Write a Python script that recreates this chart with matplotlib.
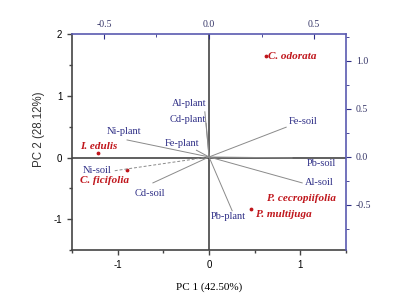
import matplotlib
matplotlib.use("Agg")
import matplotlib.pyplot as plt
from matplotlib.ticker import MultipleLocator

plt.rcParams["axes.unicode_minus"] = False

# ---- data ----
# loadings (top / right axes units)
var_names = ["Fe-soil", "Pb-soil", "Al-soil", "Pb-plant", "Cd-soil",
             "Ni-soil", "Ni-plant", "Fe-plant", "Al-plant", "Cd-plant"]
load_x = [0.367, 0.395, 0.443, 0.11, -0.267, -0.457, -0.39, -0.06, -0.02, -0.014]
load_y = [0.31, -0.01, -0.27, -0.56, -0.27, -0.146, 0.177, 0.07, 0.47, 0.35]

# scores (bottom / left axes units)
sp_names = ["C. odorata", "I. edulis", "C. ficifolia", "P. multijuga", "P. cecropiifolia"]
sp_x = [0.62, -1.22, -0.90, 0.46, 0.70]
sp_y = [1.64, 0.07, -0.21, -0.83, -0.64]

bottom_ticks = [-1, 0, 1]
left_ticks = [-1, 0, 1, 2]
top_ticks = [-0.5, 0.0, 0.5]
right_ticks = [-0.5, 0.0, 0.5, 1.0]

# ---- style ----
navy = "#2e2e86"
red = "#c0161c"
dark = "#444444"
serif = ["Liberation Serif", "DejaVu Serif"]
sans = ["Liberation Sans", "DejaVu Sans"]

fig = plt.figure(figsize=(4.02, 3.01), dpi=100)
pos = [0.179, 0.169, 0.682, 0.718]
ax = fig.add_axes(pos)
ax2 = fig.add_axes(pos)
ax2.patch.set_visible(False)

ax.set_xlim(-1.5, 1.5)
ax.set_ylim(-1.5, 2.0)
ax2.set_xlim(-1.5 / 2.3, 1.5 / 2.3)
ax2.set_ylim(-0.97, 1.28)

# main axes spines/ticks
for s in ["top", "right"]:
    ax.spines[s].set_visible(False)
for s in ["left", "bottom"]:
    ax.spines[s].set_color(dark)
    ax.spines[s].set_linewidth(1.2)
ax.set_xticks(bottom_ticks)
ax.set_yticks(left_ticks)
ax.xaxis.set_minor_locator(MultipleLocator(0.5))
ax.yaxis.set_minor_locator(MultipleLocator(0.5))
ax.tick_params(which="both", direction="out", color=dark, width=1.0, labelsize=7)
ax.tick_params(which="major", length=3.5)
ax.tick_params(which="minor", length=2)
for lab in ax.get_xticklabels() + ax.get_yticklabels():
    lab.set_family(sans)

# secondary axes (top/right)
for s in ["left", "bottom"]:
    ax2.spines[s].set_visible(False)
ax2.xaxis.tick_top()
ax2.yaxis.tick_right()
for s in ["top", "right"]:
    ax2.spines[s].set_visible(True)
    ax2.spines[s].set_color("#5a5ab0")
    ax2.spines[s].set_linewidth(1.2)
ax2.set_xticks(top_ticks)
ax2.set_yticks(right_ticks)
ax2.set_xticklabels(["%.1f" % t for t in top_ticks])
ax2.set_yticklabels(["%.1f" % t for t in right_ticks])
ax2.xaxis.set_minor_locator(MultipleLocator(0.25))
ax2.yaxis.set_minor_locator(MultipleLocator(0.25))
ax2.tick_params(axis="x", which="both", direction="in", color=navy, labelcolor="#333366", labelsize=7)
ax2.tick_params(axis="y", which="both", direction="out", color=navy, labelcolor="#333366", labelsize=7)
ax2.tick_params(which="major", length=3.5)
ax2.tick_params(which="minor", length=2)
for lab in ax2.get_xticklabels() + ax2.get_yticklabels():
    lab.set_family(serif)

# zero lines
ax.axhline(0, color=dark, lw=1.2, zorder=1)
ax.axvline(0, color=dark, lw=1.2, zorder=1)

# loading vectors
offsets = {
    "Fe-soil": (3, 6, "left"),
    "Pb-soil": (15, -6, "left"),
    "Al-soil": (3, 0, "left"),
    "Pb-plant": (-4, -6, "center"),
    "Cd-soil": (-3, -11, "center"),
    "Ni-soil": (-1, 0, "right"),
    "Ni-plant": (-3, 8, "center"),
    "Fe-plant": (-14, 7, "center"),
    "Al-plant": (-16, 8, "center"),
    "Cd-plant": (-18, 4, "center"),
}
for name, lx, ly in zip(var_names, load_x, load_y):
    ls = (0, (3, 2)) if name == "Ni-soil" else "-"
    ax2.plot([0, lx], [0, ly], color="#8a8a8a", lw=0.7, ls=ls, zorder=2)
    dx, dy, ha = offsets[name]
    ax2.annotate(name, (lx, ly), xytext=(dx, dy), textcoords="offset pixels",
                 ha=ha, va="center", color=navy, fontsize=7.5, family=serif, zorder=4)

# species scores
sp_off = {
    "C. odorata": (2, 0, "left"),
    "I. edulis": (1, 7, "center"),
    "C. ficifolia": (-22, -10, "center"),
    "P. multijuga": (5, -6, "left"),
    "P. cecropiifolia": (-6, -1, "left"),
}
ax.scatter(sp_x, sp_y, s=3, color=red, zorder=3)
for name, x, y in zip(sp_names, sp_x, sp_y):
    dx, dy, ha = sp_off[name]
    bb = None
    if name == "P. cecropiifolia":
        bb = dict(boxstyle="square,pad=0.05", fc="white", ec="none")
    ax.annotate(name, (x, y), xytext=(dx, dy), textcoords="offset pixels",
                ha=ha, va="center", color=red, fontsize=8, family=serif,
                style="italic", weight="bold", zorder=5, bbox=bb)

ax.set_xlabel("PC 1 (42.50%)", family=serif, fontsize=8, labelpad=9)
ax.set_ylabel("PC 2 (28.12%)", family=sans, fontsize=8.3, color="#333333")
ax.yaxis.set_label_coords(-0.10, 0.56)

fig.savefig("out.png", dpi=100)
